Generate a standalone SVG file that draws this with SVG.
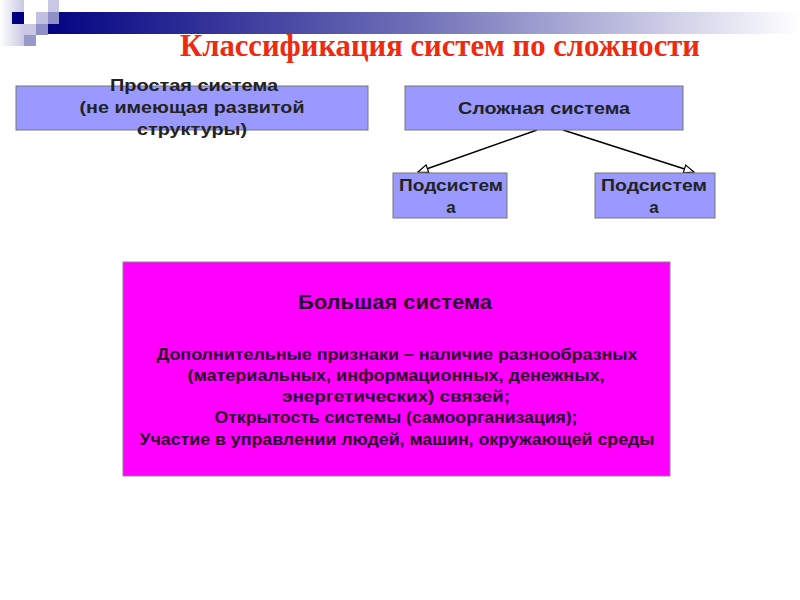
<svg xmlns="http://www.w3.org/2000/svg" width="800" height="600" viewBox="0 0 800 600">
  <defs>
    <linearGradient id="band" x1="0" y1="0" x2="1" y2="0">
      <stop offset="0" stop-color="#000080"/>
      <stop offset="0.5" stop-color="#7070B8"/>
      <stop offset="1" stop-color="#FFFFFF"/>
    </linearGradient>
    <linearGradient id="side" x1="0" y1="0" x2="1" y2="0">
      <stop offset="0" stop-color="#FFFFFF"/>
      <stop offset="1" stop-color="#C8C8E4"/>
    </linearGradient>
    <marker id="arr" viewBox="0 0 12 10" refX="11" refY="5" markerWidth="12" markerHeight="10" markerUnits="userSpaceOnUse" orient="auto">
      <path d="M1,1 L11,5 L1,9 Z" fill="#FFFFFF" stroke="#000" stroke-width="1.2"/>
    </marker>
    <style>
      .box { fill: #9999FF; stroke: #777; stroke-width: 1; }
      .big { fill: #FF00FF; stroke: #888; stroke-width: 1; }
      .t { font-family: "Liberation Sans", Arial, sans-serif; font-weight: bold; font-size: 17px; fill: #222; text-anchor: middle; }
      .tb { font-family: "Liberation Sans", Arial, sans-serif; font-weight: bold; font-size: 16px; fill: #2a002a; text-anchor: middle; }
      .th { font-family: "Liberation Sans", Arial, sans-serif; font-weight: bold; font-size: 20px; fill: #2a002a; text-anchor: middle; }
      .title { font-family: "Liberation Serif", "Times New Roman", serif; font-weight: bold; font-size: 31px; fill: #EE2A10; text-anchor: middle; }
      .conn { stroke: #000; stroke-width: 1.5; fill: none; }
    </style>
  </defs>

  <g id="decoration">
    <rect x="0" y="0" width="24" height="46" fill="url(#side)"/>
    <rect x="36" y="12" width="764" height="22" fill="url(#band)"/>
    <rect x="12" y="12" width="12" height="12" fill="#000080"/>
    <rect x="48" y="0" width="11" height="12" fill="#C8C8E4"/>
    <rect x="36" y="12" width="12" height="12" fill="#C0C0E0"/>
    <rect x="48" y="12" width="11" height="12" fill="#9090C8"/>
    <rect x="24" y="24" width="12" height="11" fill="#C8C8E4"/>
    <rect x="36" y="24" width="12" height="11" fill="#9090C8"/>
    <rect x="24" y="35" width="12" height="11" fill="#9898CC"/>
  </g>

  <text class="title" x="440" y="56" textLength="520" lengthAdjust="spacingAndGlyphs">Классификация систем по сложности</text>

  <g id="connectors">
    <line class="conn" x1="537" y1="130" x2="418" y2="172" marker-end="url(#arr)"/>
    <line class="conn" x1="563" y1="130" x2="694" y2="172" marker-end="url(#arr)"/>
  </g>

  <g id="simple">
    <rect class="box" x="16" y="86" width="352" height="44"/>
    <text class="t" x="194" y="91" textLength="168" lengthAdjust="spacingAndGlyphs">Простая система</text>
    <text class="t" x="192" y="113" textLength="225" lengthAdjust="spacingAndGlyphs">(не имеющая развитой</text>
    <text class="t" x="192" y="135" textLength="110" lengthAdjust="spacingAndGlyphs">структуры)</text>
  </g>

  <g id="complex">
    <rect class="box" x="405" y="86" width="278" height="44"/>
    <text class="t" x="544" y="114" textLength="172" lengthAdjust="spacingAndGlyphs">Сложная система</text>
  </g>

  <g id="sub1">
    <rect class="box" x="393" y="173" width="114" height="45"/>
    <text class="t" x="451" y="191" textLength="104" lengthAdjust="spacingAndGlyphs">Подсистем</text>
    <text class="t" x="451" y="213">а</text>
  </g>

  <g id="sub2">
    <rect class="box" x="595" y="173" width="120" height="45"/>
    <text class="t" x="654" y="191" textLength="106" lengthAdjust="spacingAndGlyphs">Подсистем</text>
    <text class="t" x="654" y="213">а</text>
  </g>

  <g id="large">
    <rect class="big" x="123" y="262" width="547" height="214"/>
    <text class="th" x="395" y="309" textLength="194" lengthAdjust="spacingAndGlyphs">Большая система</text>
    <text class="tb" x="397" y="360" textLength="481" lengthAdjust="spacingAndGlyphs">Дополнительные признаки – наличие разнообразных</text>
    <text class="tb" x="396" y="381" textLength="417" lengthAdjust="spacingAndGlyphs">(материальных, информационных, денежных,</text>
    <text class="tb" x="396" y="402" textLength="228" lengthAdjust="spacingAndGlyphs">энергетических) связей;</text>
    <text class="tb" x="396" y="423" textLength="363" lengthAdjust="spacingAndGlyphs">Открытость системы (самоорганизация);</text>
    <text class="tb" x="397" y="445" textLength="515" lengthAdjust="spacingAndGlyphs">Участие в управлении людей, машин, окружающей среды</text>
  </g>
</svg>
